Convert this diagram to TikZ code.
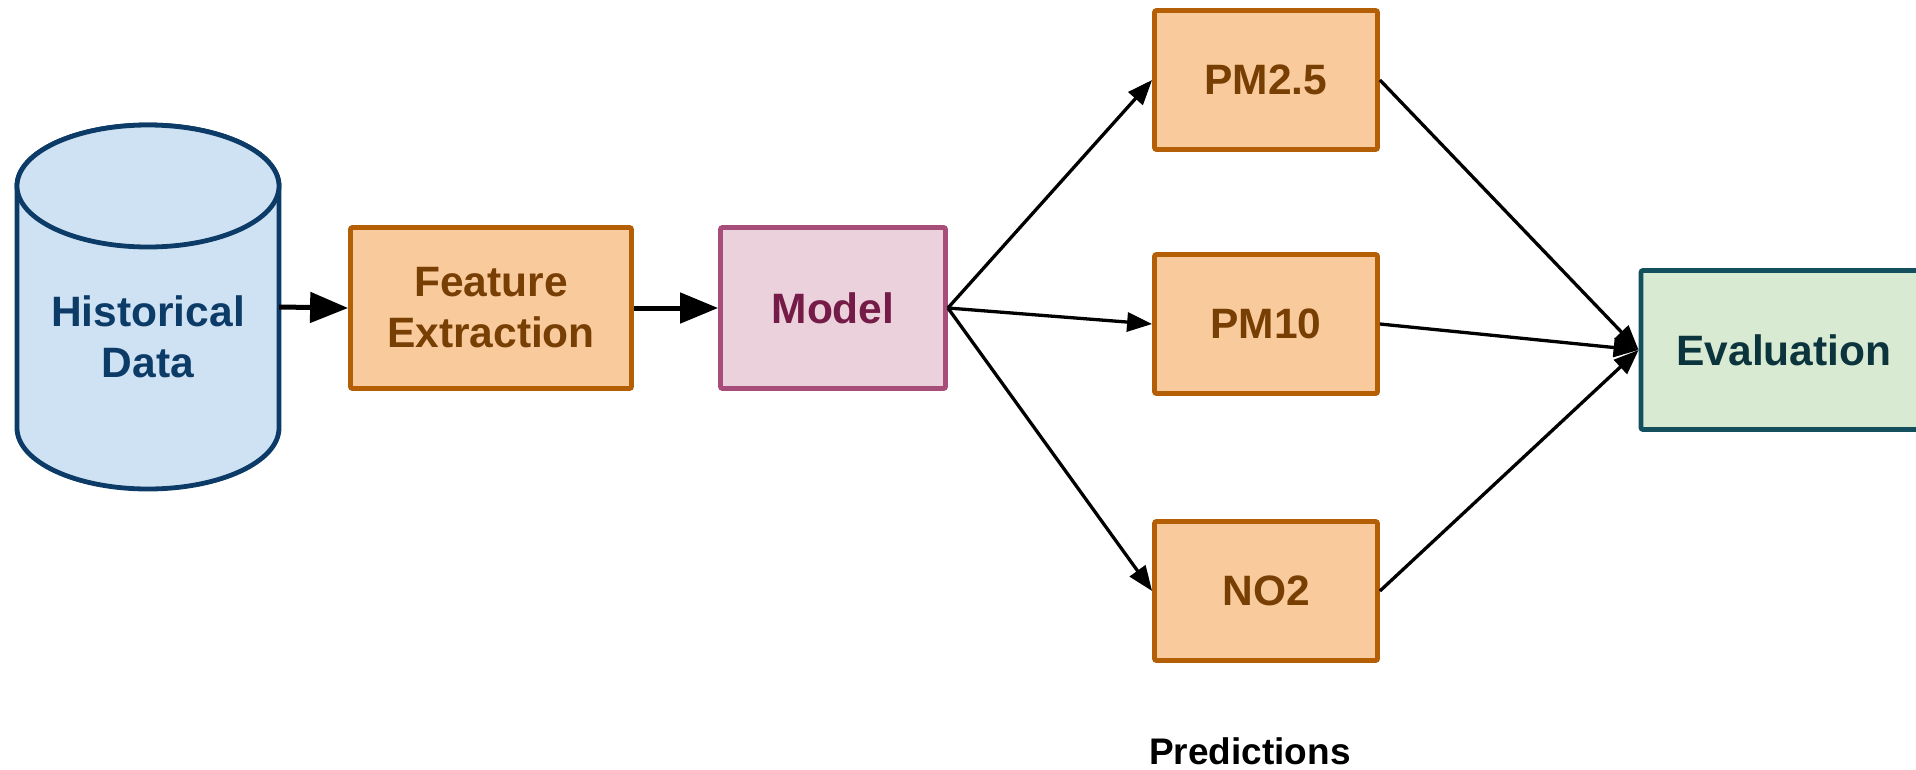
\documentclass[tikz,border=0pt]{standalone}
\usepackage{fontspec}
\setmainfont{Liberation Sans}
\usetikzlibrary{arrows.meta}
\definecolor{cylfill}{HTML}{CFE2F3}
\definecolor{cylline}{HTML}{0B3B66}
\definecolor{cyltext}{HTML}{0B3B66}
\definecolor{orfill}{HTML}{F9CB9C}
\definecolor{orline}{HTML}{B45F06}
\definecolor{ortext}{HTML}{783F04}
\definecolor{mgfill}{HTML}{EAD1DC}
\definecolor{mgline}{HTML}{A64D79}
\definecolor{mgtext}{HTML}{741B47}
\definecolor{gnfill}{HTML}{D9EAD3}
\definecolor{gnline}{HTML}{134F5C}
\definecolor{gntext}{HTML}{0C343D}
\tikzset{
  lbl/.style={font=\bfseries\fontsize{42.5}{51}\selectfont, align=center},
  box/.style={lbl, draw, line width=4.8pt, rounded corners=2pt, inner sep=0pt},
  orbox/.style={box, fill=orfill, draw=orline, text=ortext, minimum width=223pt, minimum height=139pt},
  thickarrow/.style={line width=5pt, -{Triangle[length=38pt,width=30pt]}},
  thinarrow/.style={line width=3.3pt, -{Triangle[length=25pt,width=19pt]}},
}
\begin{document}
\begin{tikzpicture}[x=1pt,y=-1pt]
\useasboundingbox (0,0) rectangle (1916,769);
% cylinder
\draw[fill=cylfill, draw=cylline, line width=4.8pt]
  (17,186) -- (17,428) arc[start angle=180, end angle=0, x radius=131, y radius=61]
  -- (279,186) arc[start angle=0, end angle=-180, x radius=131, y radius=61] -- cycle;
\draw[fill=cylfill, draw=cylline, line width=4.8pt] (148,186) ellipse [x radius=131, y radius=61];
\node[minimum width=262pt, minimum height=364pt, inner sep=0pt] (hist) at (148,307) {};
\node[lbl, text=cyltext] (histtxt) at (148,337) {Historical\\Data};
% boxes
\node[orbox, minimum width=281pt, minimum height=161pt] (fe) at (491,308) {Feature\\Extraction};
\node[box, fill=mgfill, draw=mgline, text=mgtext, minimum width=225pt, minimum height=161pt] (model) at (833,308) {Model};
\node[orbox] (pm25) at (1266,80) {PM2.5};
\node[orbox] (pm10) at (1266,324) {PM10};
\node[orbox] (no2) at (1266,591) {NO2};
\node[box, fill=gnfill, draw=gnline, text=gntext, minimum width=286pt, minimum height=159pt] (eval) at (1784,350) {Evaluation};
\node[font=\bfseries\fontsize{37}{44}\selectfont] (pred) at (1250,751) {Predictions};
% connectors
\draw[thickarrow] (hist.east) -- (fe.west);
\draw[thickarrow] (fe.east) -- (model.west);
\draw[thinarrow] (model.east) -- (pm25.west);
\draw[thinarrow] (model.east) -- (pm10.west);
\draw[thinarrow] (model.east) -- (no2.west);
\draw[thinarrow] (pm25.east) -- (eval.west);
\draw[thinarrow] (pm10.east) -- (eval.west);
\draw[thinarrow] (no2.east) -- (eval.west);
\end{tikzpicture}
\end{document}
